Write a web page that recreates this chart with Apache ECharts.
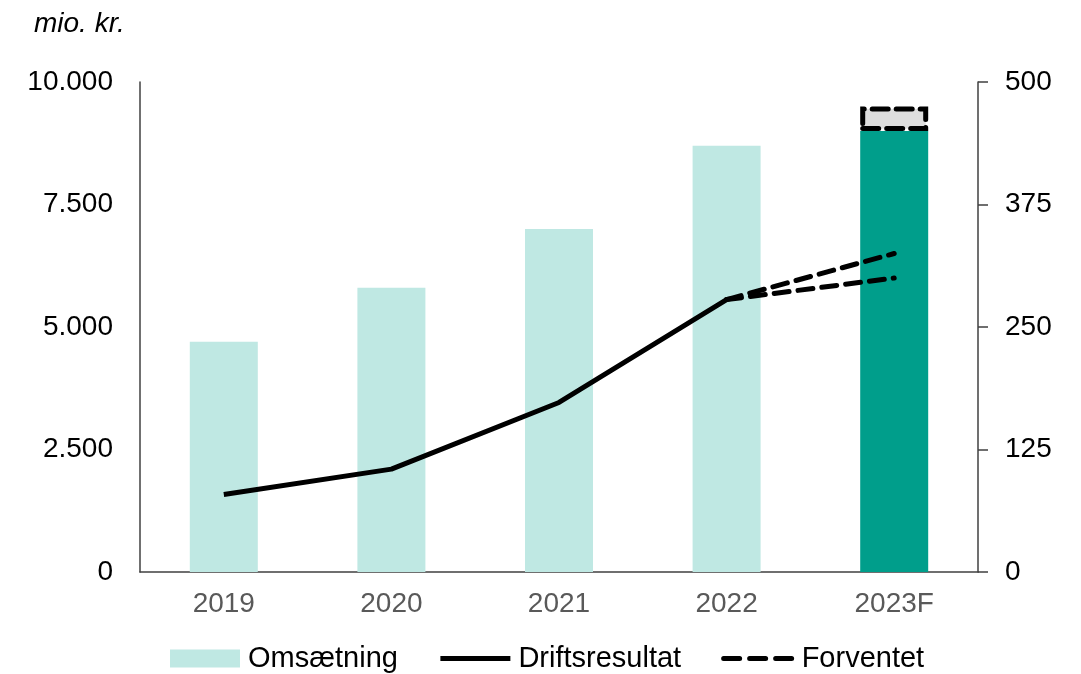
<!DOCTYPE html>
<html>
<head>
<meta charset="utf-8">
<script src="https://cdn.jsdelivr.net/npm/echarts@6/dist/echarts.min.js"></script>
<style>html,body{margin:0;padding:0;background:#fff}#c{width:1081px;height:674px}</style>
</head>
<body>
<div id="c"></div>
<script>
const categories = ['2019', '2020', '2021', '2022', '2023F'];
const omsaetning = [4700, 5800, 7000, 8700, 9000];
const omsaetningRange = [null, null, null, null, 500];
const driftsresultat = [79, 105, 173, 278, null];
const forventetHigh = [null, null, null, 278, 325];
const forventetLow = [null, null, null, 278, 300];
const leftTicks = { min: 0, max: 10000, interval: 2500 };
const rightTicks = { min: 0, max: 500, interval: 125 };

const light = '#bfe8e3', dark = '#009e8b', axisCol = '#404040';
const FONT = 'Liberation Sans, Arial, sans-serif';
const fmt = v => String(v).replace(/\B(?=(\d{3})+(?!\d))/g, '.');

const chart = echarts.init(document.getElementById('c'));
chart.setOption({
  animation: false,
  textStyle: { fontFamily: FONT },
  title: { text: 'mio. kr.', left: 29, top: 5,
    textStyle: { fontSize: 28, fontStyle: 'italic', fontWeight: 'normal', color: '#000', fontFamily: FONT } },
  grid: { left: 140, right: 103, top: 82, bottom: 102 },
  legend: {
    top: 639, left: 165, itemWidth: 70, itemHeight: 18, itemGap: 40,
    textStyle: { fontSize: 29, color: '#000', padding: [0, 0, 0, 3] },
    data: [
      { name: 'Omsætning', icon: 'rect', itemStyle: { color: light } },
      { name: 'Driftsresultat', itemStyle: { opacity: 0 }, lineStyle: { color: '#000', width: 5, type: 'solid' } },
      { name: 'Forventet', itemStyle: { opacity: 0 }, lineStyle: { color: '#000', width: 5, type: [16, 10], cap: 'round' } }
    ]
  },
  xAxis: {
    type: 'category', data: categories,
    axisLine: { lineStyle: { color: axisCol, width: 1.5 } },
    axisTick: { show: false },
    axisLabel: { fontSize: 28, color: '#595959', margin: 18 }
  },
  yAxis: [
    { type: 'value', min: leftTicks.min, max: leftTicks.max, interval: leftTicks.interval,
      axisLine: { show: true, lineStyle: { color: axisCol, width: 1.5 } },
      axisTick: { show: false }, splitLine: { show: false },
      axisLabel: { fontSize: 28, color: '#000', margin: 27, formatter: fmt } },
    { type: 'value', min: rightTicks.min, max: rightTicks.max, interval: rightTicks.interval,
      position: 'right',
      axisLine: { show: true, lineStyle: { color: axisCol, width: 1.5 } },
      axisTick: { show: true, length: 10, lineStyle: { color: axisCol, width: 1.5 } },
      splitLine: { show: false },
      axisLabel: { fontSize: 28, color: '#000', margin: 27 } }
  ],
  series: [
    { name: 'Omsætning', type: 'bar', stack: 'oms', barWidth: 68,
      itemStyle: { color: light },
      data: omsaetning.map((v, i) => i === 4 ? { value: v, itemStyle: { color: dark } } : v) },
    { name: 'Interval', type: 'bar', stack: 'oms', barWidth: 68,
      itemStyle: { color: '#dedede', borderColor: '#000', borderWidth: 5,
        borderType: [16, 8], borderCap: 'round' },
      data: omsaetningRange },
    { name: 'Driftsresultat', type: 'line', yAxisIndex: 1, showSymbol: false, symbol: 'none',
      lineStyle: { color: '#000', width: 5 }, itemStyle: { color: '#000' },
      data: driftsresultat },
    { name: 'Forventet', type: 'line', yAxisIndex: 1, showSymbol: false, symbol: 'none',
      lineStyle: { color: '#000', width: 5, type: [15, 9], cap: 'round' }, itemStyle: { color: '#000' },
      data: forventetHigh },
    { name: 'Forventet', type: 'line', yAxisIndex: 1, showSymbol: false, symbol: 'none',
      lineStyle: { color: '#000', width: 5, type: [15, 9], cap: 'round' }, itemStyle: { color: '#000' },
      data: forventetLow }
  ]
});
</script>
</body>
</html>
